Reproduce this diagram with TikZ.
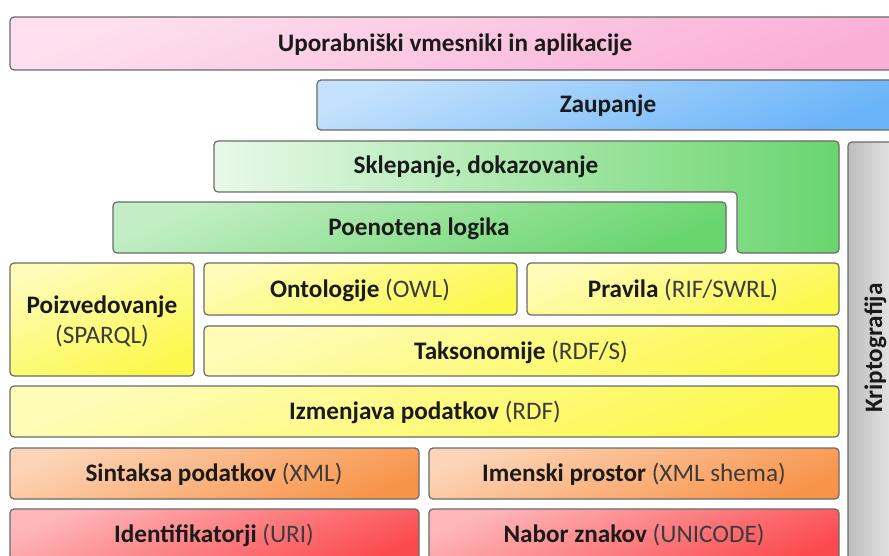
\documentclass[tikz,border=0pt]{standalone}
\usepackage{fontspec}
\setmainfont{Carlito}
\definecolor{cpink}{HTML}{FAB0D6}
\definecolor{cblue}{HTML}{69B3F8}
\definecolor{cgreen}{HTML}{69D56D}
\definecolor{cyellow}{HTML}{FCF84C}
\definecolor{corange}{HTML}{F8944A}
\definecolor{cred}{HTML}{FB4A4F}
\definecolor{cgray}{HTML}{BDBDBD}
\definecolor{cedge}{HTML}{6A6A6A}
\definecolor{ctext}{HTML}{1A1A1A}
\definecolor{csub}{HTML}{3C3C3C}
\newcommand\subtxt[1]{{\mdseries\color{csub}#1}}
\tikzset{
  layer/.style={draw=cedge, line width=0.9pt, rounded corners=3pt},
  shade/.style={top color=white!60!#1, bottom color=#1, shading angle=22},
  lbl/.style={font=\fontsize{18.9}{22}\selectfont\bfseries, text=ctext, inner sep=0pt, anchor=base},
}
\begin{document}
\begin{tikzpicture}[x=0.75pt, y=-0.75pt]
\clip (0,0) rectangle (889,556);
\fill[white] (0,0) rectangle (889,556);
% layers
\path[layer, shade=cpink] (10,17) rectangle (905,70);
\path[layer, shade=cblue] (317,80) rectangle (905,130);
\path[layer, left color=cgreen!15!white, right color=cgreen]
  (214,141) -- (839,141) -- (839,253) -- (737,253) -- (737,192) -- (214,192) -- cycle;
\path[layer, shade=cgreen] (113,202) rectangle (726,253);
\path[layer, left color=cgray, right color=cgray!25!white] (848,142) rectangle (905,575);
\path[layer, shade=cyellow] (10,263) rectangle (194,376);
\path[layer, shade=cyellow] (204,263) rectangle (517,315);
\path[layer, shade=cyellow] (527,263) rectangle (839,315);
\path[layer, shade=cyellow] (204,326) rectangle (839,376);
\path[layer, shade=cyellow] (10,386) rectangle (839,437);
\path[layer, shade=corange] (10,448) rectangle (419,499);
\path[layer, shade=corange] (429,448) rectangle (839,499);
\path[layer, shade=cred] (10,509) rectangle (419,565);
\path[layer, shade=cred] (429,509) rectangle (839,565);
% labels
\node[lbl] (ui) at (455,52) {Uporabniški vmesniki in aplikacije};
\node[lbl] (trust) at (608,113) {Zaupanje};
\node[lbl] (proof) at (476,174) {Sklepanje, dokazovanje};
\node[lbl] (logic) at (419,235) {Poenotena logika};
\node[lbl] (query) at (102,313) {Poizvedovanje};
\node[lbl] (querysub) at (102,343) {\subtxt{(SPARQL)}};
\node[lbl] (owl) at (360,297) {Ontologije \subtxt{(OWL)}};
\node[lbl] (rules) at (683,297) {Pravila \subtxt{(RIF/SWRL)}};
\node[lbl] (rdfs) at (521,359) {Taksonomije \subtxt{(RDF/S)}};
\node[lbl] (rdf) at (425,419) {Izmenjava podatkov \subtxt{(RDF)}};
\node[lbl] (xml) at (214,481) {Sintaksa podatkov \subtxt{(XML)}};
\node[lbl] (ns) at (634,481) {Imenski prostor \subtxt{(XML shema)}};
\node[lbl] (uri) at (214,542) {Identifikatorji \subtxt{(URI)}};
\node[lbl] (uni) at (634,542) {Nabor znakov \subtxt{(UNICODE)}};
\node[lbl, rotate=90] (crypto) at (882,348) {Kriptografija};
\end{tikzpicture}
\end{document}
